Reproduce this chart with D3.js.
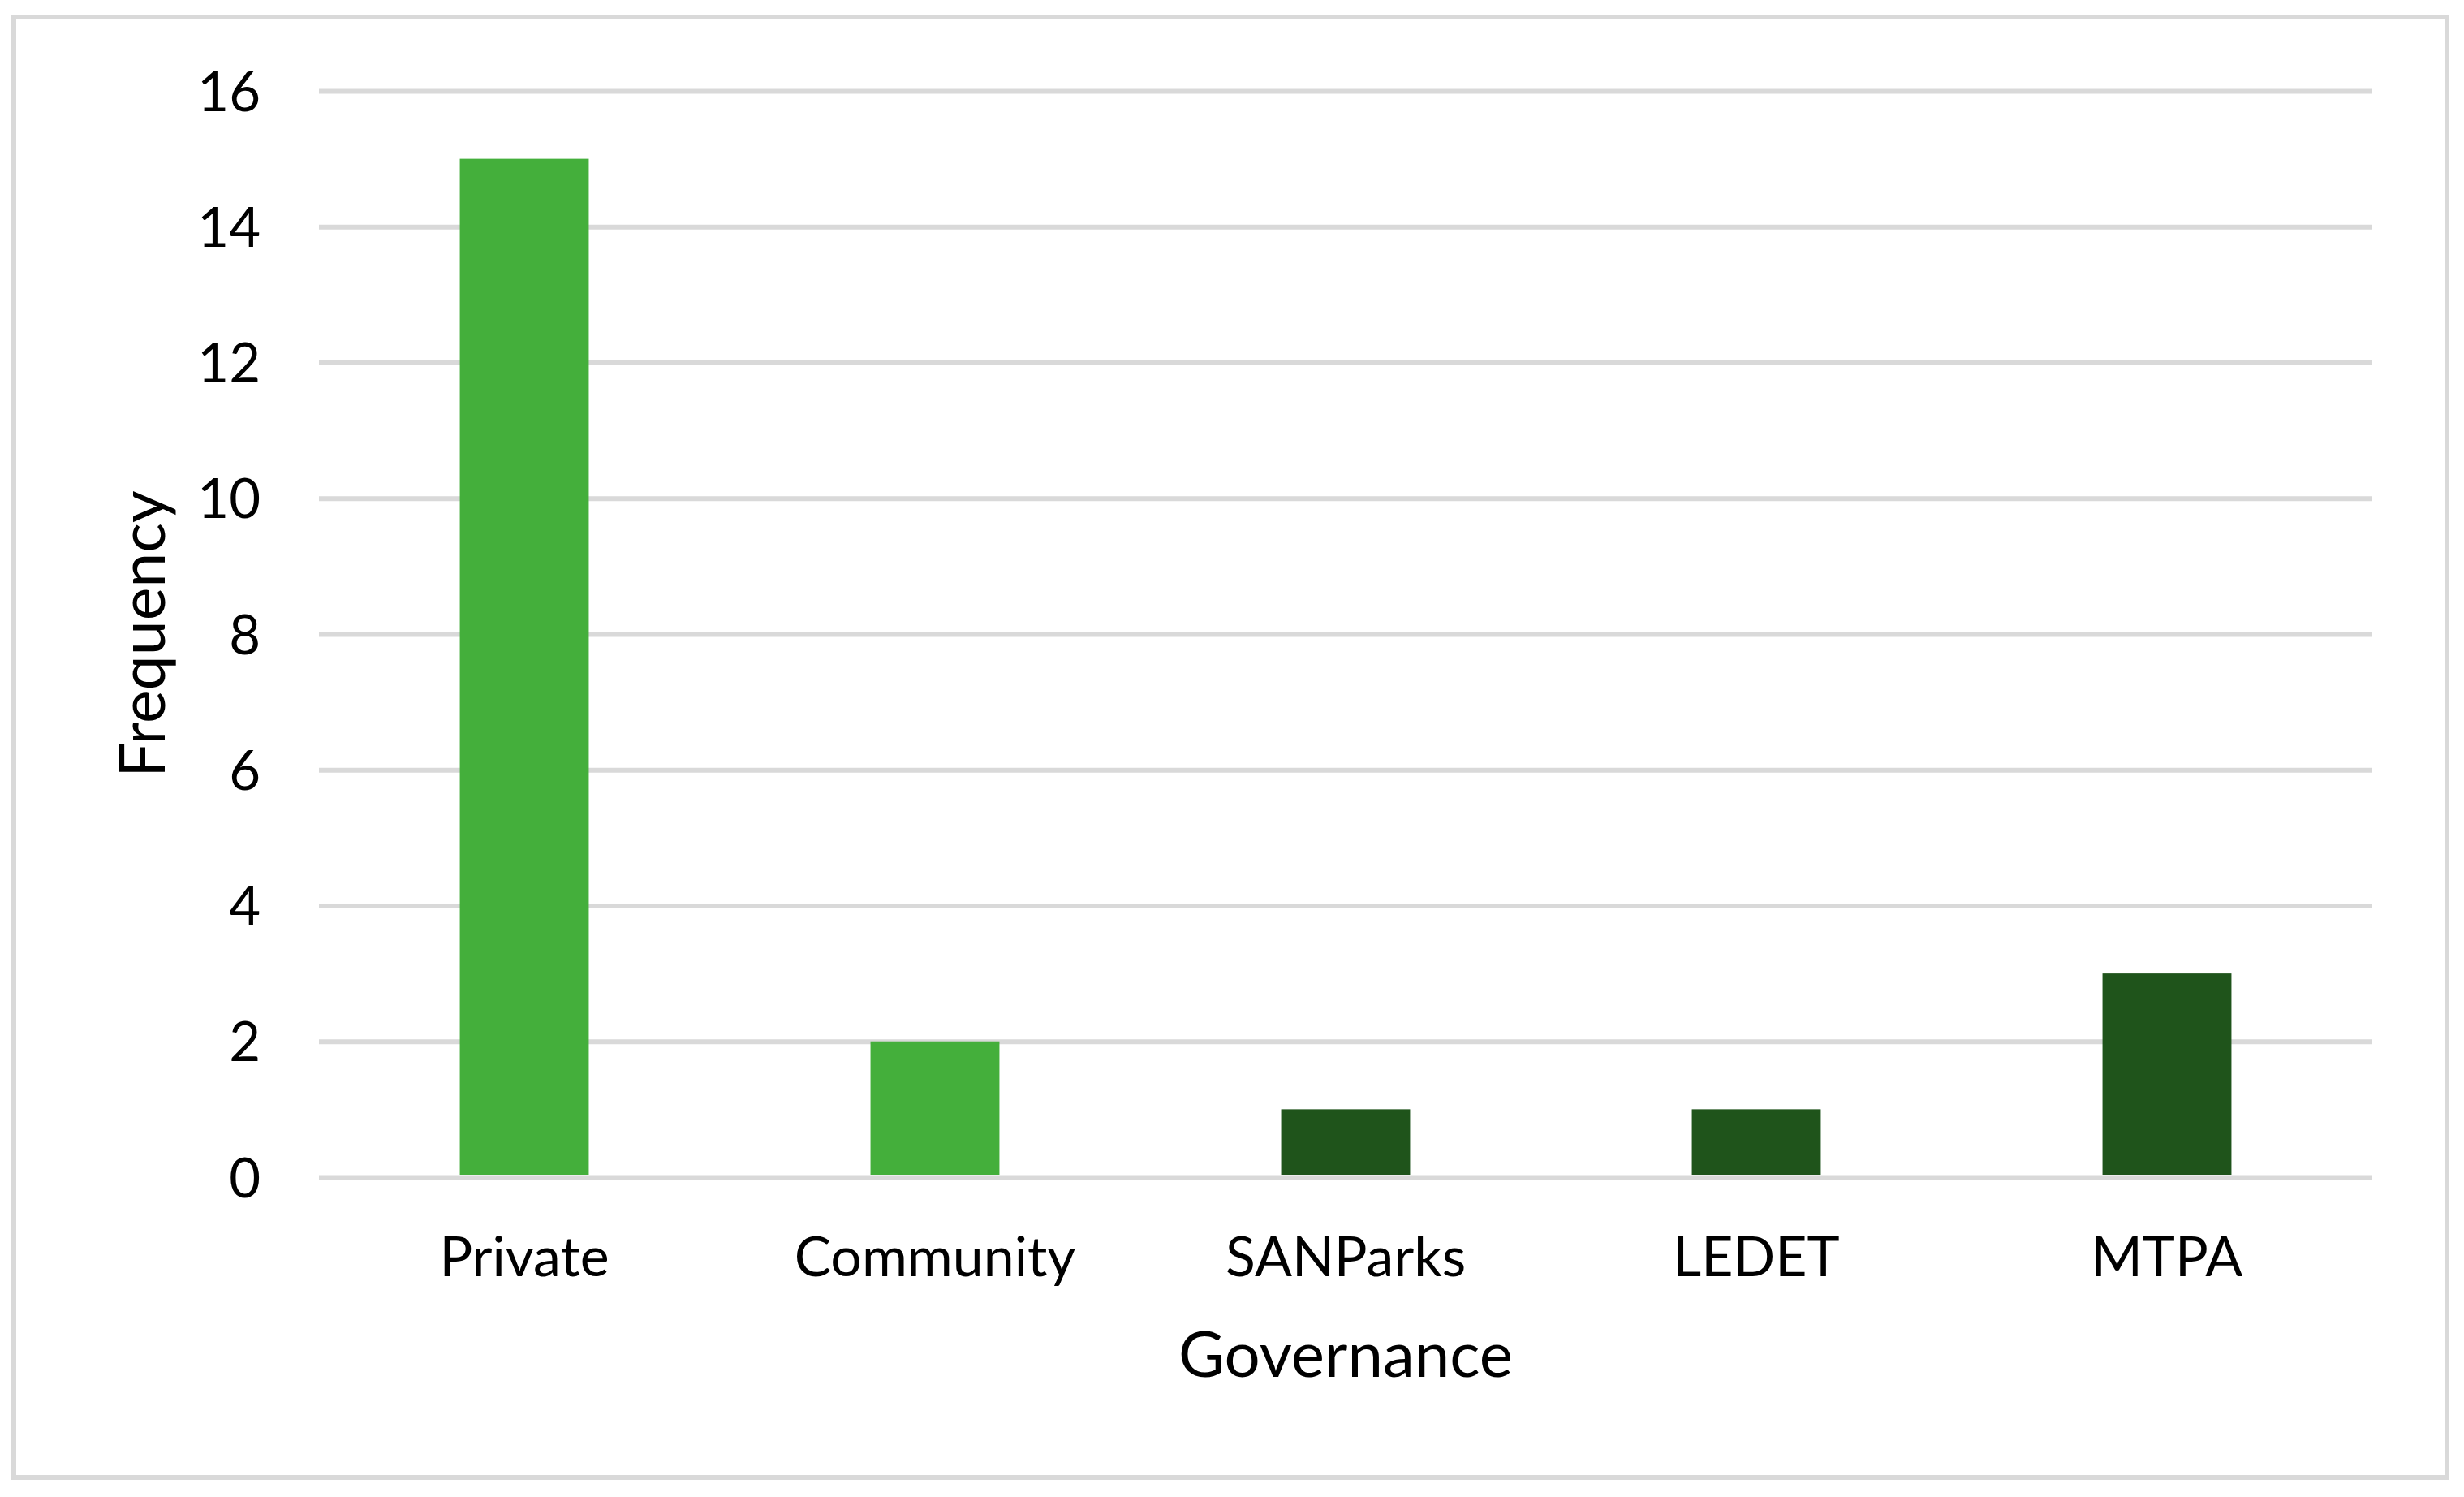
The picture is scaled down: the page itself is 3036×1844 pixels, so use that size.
<!DOCTYPE html>
<html><head><meta charset="utf-8">
<script src="https://cdn.jsdelivr.net/npm/d3@7"></script>
<style>html,body{margin:0;padding:0;background:#fff;}svg{display:block;}</style>
</head><body>
<script>
const categories = ["Private", "Community", "SANParks", "LEDET", "MTPA"];
const values = [15, 2, 1, 1, 3];
const barColors = ["#44AF3B", "#44AF3B", "#1F541B", "#1F541B", "#1F541B"];
const yTicks = [0, 2, 4, 6, 8, 10, 12, 14, 16];
const xTitle = "Governance";
const yTitle = "Frequency";

const W = 3036, H = 1844;
const m = {left: 393, right: W - 2923, top: 112, bottom: H - 1450};
const font = "Lato, 'Open Sans', sans-serif";

const svg = d3.select("body").append("svg").attr("width", W).attr("height", H);
svg.append("rect").attr("x", 0).attr("y", 0).attr("width", W).attr("height", H).attr("fill", "#fff");
svg.append("rect").attr("x", 17).attr("y", 21).attr("width", 2998).attr("height", 1799)
  .attr("fill", "none").attr("stroke", "#d9d9d9").attr("stroke-width", 6);

const x = d3.scaleBand().domain(categories).range([m.left, W - m.right]).paddingInner(0.686).paddingOuter(0.343);
const y = d3.scaleLinear().domain([0, 16]).range([H - m.bottom, m.top]);

const yAxis = d3.axisLeft(y).tickValues(yTicks).tickSize(-(W - m.left - m.right)).tickPadding(72).tickFormat(d3.format("d"));
const gy = svg.append("g").attr("transform", `translate(${m.left},0)`).call(yAxis);
gy.select(".domain").remove();
gy.selectAll(".tick line").attr("stroke", "#d9d9d9").attr("stroke-width", 6);
gy.selectAll(".tick text").attr("font-family", font).attr("font-size", 67).attr("fill", "#000").attr("dy", "0.36em");

svg.append("g").selectAll("rect").data(values).join("rect")
  .attr("x", (d, i) => x(categories[i]))
  .attr("width", x.bandwidth())
  .attr("y", d => y(d))
  .attr("height", d => y(0) - y(d) - 3)
  .attr("fill", (d, i) => barColors[i]);

const xAxis = d3.axisBottom(x).tickSize(0).tickPadding(0);
const gx = svg.append("g").attr("transform", `translate(0,${H - m.bottom})`).call(xAxis);
gx.select(".domain").remove();
gx.selectAll(".tick text").attr("font-family", font).attr("font-size", 68).attr("fill", "#000")
  .attr("dy", 0).attr("y", 122);

svg.append("text").attr("x", (m.left + W - m.right) / 2).attr("y", 1696)
  .attr("text-anchor", "middle").attr("font-family", font).attr("font-size", 78).attr("fill", "#000").text(xTitle);
svg.append("text").attr("transform", `translate(203,${(m.top + H - m.bottom) / 2}) rotate(-90)`)
  .attr("text-anchor", "middle").attr("font-family", font).attr("font-size", 77).attr("fill", "#000").text(yTitle);
</script>
</body></html>
